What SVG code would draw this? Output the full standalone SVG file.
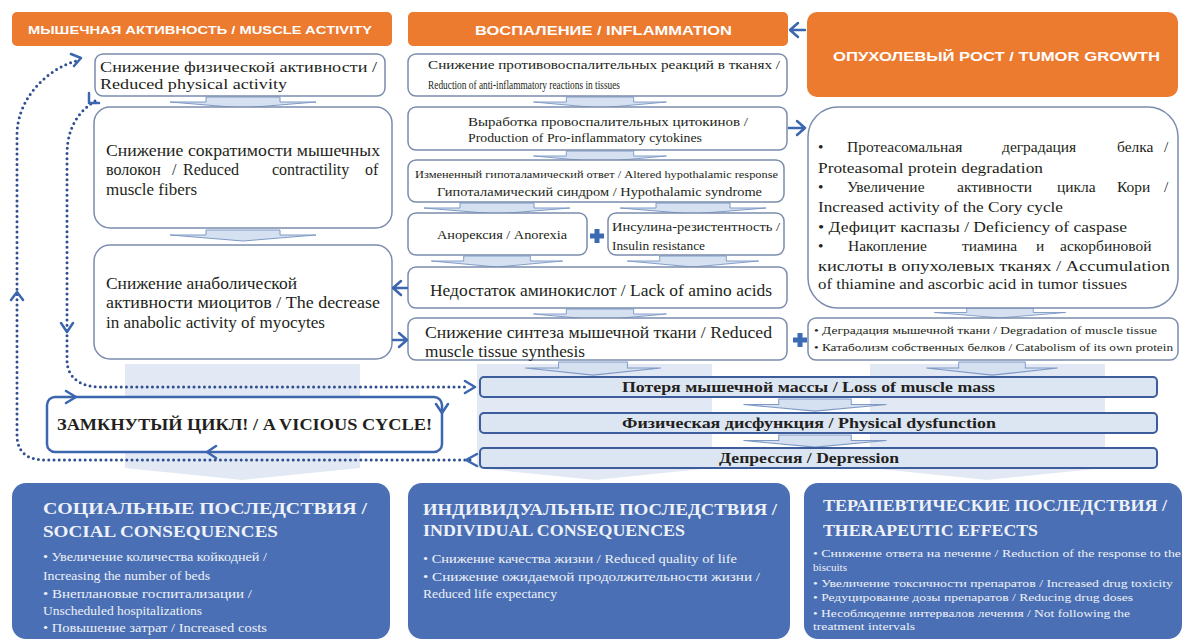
<svg xmlns="http://www.w3.org/2000/svg" width="1187" height="643" viewBox="0 0 1187 643">
<style>
.bg{fill:#ffffff}
.col{fill:#e2e9f4}
.chev{fill:#d5e0f0;stroke:#7f9ac6;stroke-width:1}
.box{fill:#ffffff;stroke:#7b8cad;stroke-width:1.5}
.hdr{fill:#ec7a2f}
.ht{font-family:"Liberation Sans",Arial,"DejaVu Sans",sans-serif;font-weight:bold;fill:#ffffff}
.t{font-family:"Liberation Serif","Times New Roman","DejaVu Serif",Times,serif;fill:#231f20}
.b{font-weight:bold}
.bar{fill:#dce6f2;stroke:#3d5c9c;stroke-width:2}
.cyc{fill:#ffffff;stroke:#3c66ae;stroke-width:2.5}
.cons{fill:#4a6fb4}
.ct{font-family:"Liberation Serif","Times New Roman","DejaVu Serif",Times,serif;fill:#eef2f8}
.dot{fill:none;stroke:#2f4f92;stroke-width:3;stroke-dasharray:0 5.2;stroke-linecap:round}
.ah{fill:none;stroke:#3b66b0;stroke-width:2.5;stroke-linecap:round;stroke-linejoin:round}
.plus{fill:#3d6bb3}
</style>
<defs>
<path id="chev" d="M-37 0H37V5H73L0 11L-73 5H-37Z"/>
<path id="plus" d="M-2.5 -7h5v4.5h4.5v5h-4.5v4.5h-5v-4.5h-4.5v-5h4.5z"/>
</defs>
<rect class="bg" x="0" y="0" width="1187" height="643"/>

<g id="columns">
<path class="col" d="M125 364H360V468L242 480L125 468Z"/>
<path class="col" d="M477 364H712V468L595 480L477 468Z"/>
<path class="col" d="M870 364H1105V468L987 480L870 468Z"/>
</g>

<g id="chevrons">
<use href="#chev" class="chev" transform="translate(243,97)"/>
<use href="#chev" class="chev" transform="translate(243,230)"/>
<use href="#chev" class="chev" transform="translate(600,97) scale(0.91,1)"/>
<use href="#chev" class="chev" transform="translate(600,151) scale(0.91,1)"/>
<use href="#chev" class="chev" transform="translate(497,203)"/>
<use href="#chev" class="chev" transform="translate(693,203)"/>
<use href="#chev" class="chev" transform="translate(497,256) scale(0.9,1)"/>
<use href="#chev" class="chev" transform="translate(693,256) scale(0.9,1)"/>
<use href="#chev" class="chev" transform="translate(600,309) scale(0.91,1)"/>
<use href="#chev" class="chev" transform="translate(593,362) scale(0.93,1.2)"/>
<use href="#chev" class="chev" transform="translate(1000,308) scale(0.9,0.9)"/>
<use href="#chev" class="chev" transform="translate(992,362) scale(0.9,1.2)"/>
<use href="#chev" class="chev" transform="translate(815,399) scale(0.98,1.1)"/>
<use href="#chev" class="chev" transform="translate(815,435) scale(0.98,1.1)"/>
</g>

<g id="hdr-muscle">
<rect class="hdr" x="12" y="12" width="380" height="34" rx="5"/>
<text class="ht" x="28" y="34" font-size="11.5" textLength="344" lengthAdjust="spacingAndGlyphs">МЫШЕЧНАЯ АКТИВНОСТЬ / MUSCLE ACTIVITY</text>
</g>
<g id="hdr-inflammation">
<rect class="hdr" x="408" y="12" width="380" height="34" rx="5"/>
<text class="ht" x="475" y="34.5" font-size="13" textLength="257" lengthAdjust="spacingAndGlyphs">ВОСПАЛЕНИЕ / INFLAMMATION</text>
</g>
<g id="hdr-tumor">
<rect class="hdr" x="807" y="12" width="371" height="85" rx="10"/>
<text class="ht" x="833" y="60.5" font-size="13" textLength="327" lengthAdjust="spacingAndGlyphs">ОПУХОЛЕВЫЙ РОСТ / TUMOR GROWTH</text>
</g>

<g id="m1">
<rect class="box" x="95" y="54" width="290" height="42" rx="8"/>
<text class="t" font-size="15"><tspan x="100" y="72" textLength="277" lengthAdjust="spacingAndGlyphs">Снижение физической активности /</tspan><tspan x="100" y="89" textLength="187" lengthAdjust="spacingAndGlyphs">Reduced physical activity</tspan></text>
</g>
<g id="m2">
<rect class="box" x="94" y="107" width="298" height="121" rx="16"/>
<text class="t" font-size="16" x="106" y="156" textLength="274" lengthAdjust="spacingAndGlyphs">Снижение сократимости мышечных</text>
<text class="t" font-size="16" y="175"><tspan x="106">волокон</tspan><tspan x="172">/</tspan><tspan x="183">Reduced</tspan><tspan x="272">contractility</tspan><tspan x="365">of</tspan></text>
<text class="t" font-size="16" x="106" y="195" textLength="91" lengthAdjust="spacingAndGlyphs">muscle fibers</text>
</g>
<g id="m3">
<rect class="box" x="94" y="245" width="298" height="114" rx="16"/>
<text class="t" font-size="16"><tspan x="106" y="289" textLength="191" lengthAdjust="spacingAndGlyphs">Снижение анаболической</tspan><tspan x="106" y="308" textLength="274" lengthAdjust="spacingAndGlyphs">активности миоцитов / The decrease</tspan><tspan x="106" y="328" textLength="219" lengthAdjust="spacingAndGlyphs">in anabolic activity of myocytes</tspan></text>
</g>

<g id="i1">
<rect class="box" x="408" y="54" width="379" height="42" rx="8"/>
<text class="t" font-size="12.5"><tspan x="428" y="69" textLength="352" lengthAdjust="spacingAndGlyphs">Снижение противовоспалительных реакций в тканях /</tspan><tspan x="428" y="89" textLength="192" lengthAdjust="spacingAndGlyphs">Reduction of anti-inflammatory reactions in tissues</tspan></text>
</g>
<g id="i2">
<rect class="box" x="408" y="107" width="379" height="43" rx="8"/>
<text class="t" font-size="12.5"><tspan x="468" y="126" textLength="280" lengthAdjust="spacingAndGlyphs">Выработка провоспалительных цитокинов /</tspan><tspan x="468" y="142" textLength="234" lengthAdjust="spacingAndGlyphs">Production of Pro-inflammatory cytokines</tspan></text>
</g>
<g id="i3">
<rect class="box" x="408" y="160" width="376" height="42" rx="8"/>
<text class="t" font-size="10" x="415" y="177.5" textLength="363" lengthAdjust="spacingAndGlyphs">Измененный гипоталамический ответ  / Altered hypothalamic response</text>
<text class="t" font-size="13" x="437" y="195.5" textLength="325" lengthAdjust="spacingAndGlyphs">Гипоталамический синдром / Hypothalamic syndrome</text>
</g>
<g id="i4">
<rect class="box" x="408" y="213" width="179" height="42" rx="8"/>
<text class="t" font-size="12" x="437" y="239" textLength="130" lengthAdjust="spacingAndGlyphs">Анорексия / Anorexia</text>
</g>
<g id="i5">
<rect class="box" x="608" y="213" width="176" height="42" rx="8"/>
<text class="t" font-size="12.5"><tspan x="612" y="231" textLength="168" lengthAdjust="spacingAndGlyphs">Инсулина-резистентность /</tspan><tspan x="612" y="250" textLength="93" lengthAdjust="spacingAndGlyphs">Insulin resistance</tspan></text>
</g>
<g id="i6">
<rect class="box" x="408" y="267" width="379" height="41" rx="8"/>
<text class="t" font-size="16" x="430" y="295.5" textLength="342" lengthAdjust="spacingAndGlyphs">Недостаток аминокислот / Lack of amino acids</text>
</g>
<g id="i7">
<rect class="box" x="408" y="318" width="379" height="42" rx="8"/>
<text class="t" font-size="16"><tspan x="425" y="337.5" textLength="347" lengthAdjust="spacingAndGlyphs">Снижение синтеза мышечной ткани / Reduced</tspan><tspan x="425" y="357" textLength="160" lengthAdjust="spacingAndGlyphs">muscle tissue synthesis</tspan></text>
</g>

<g id="t1">
<rect class="box" x="808" y="107" width="370" height="201" rx="30"/>
<text class="t" font-size="15.5" y="152"><tspan x="818">•</tspan><tspan x="847">Протеасомальная</tspan><tspan x="1002">деградация</tspan><tspan x="1117">белка</tspan><tspan x="1164">/</tspan></text>
<text class="t" font-size="15.5" x="818" y="173" textLength="225" lengthAdjust="spacingAndGlyphs">Proteasomal protein degradation</text>
<text class="t" font-size="15.5" y="192"><tspan x="818">•</tspan><tspan x="847">Увеличение</tspan><tspan x="957">активности</tspan><tspan x="1057">цикла</tspan><tspan x="1117">Кори</tspan><tspan x="1164">/</tspan></text>
<text class="t" font-size="15.5" x="818" y="212" textLength="245" lengthAdjust="spacingAndGlyphs">Increased activity of the Cory cycle</text>
<text class="t" font-size="15.5" x="818" y="232" textLength="309" lengthAdjust="spacingAndGlyphs">• Дефицит каспазы / Deficiency of caspase</text>
<text class="t" font-size="15.5" y="251"><tspan x="818">•</tspan><tspan x="848">Накопление</tspan><tspan x="962">тиамина</tspan><tspan x="1036">и</tspan><tspan x="1060">аскорбиновой</tspan></text>
<text class="t" font-size="15.5" x="818" y="271" textLength="352" lengthAdjust="spacingAndGlyphs">кислоты в опухолевых тканях / Accumulation</text>
<text class="t" font-size="15.5" x="818" y="289" textLength="309" lengthAdjust="spacingAndGlyphs">of thiamine and ascorbic acid in tumor tissues</text>
</g>
<g id="t2">
<rect class="box" x="808" y="318" width="370" height="42" rx="8"/>
<text class="t" font-size="10.5"><tspan x="814" y="334" textLength="343" lengthAdjust="spacingAndGlyphs">• Деградация мышечной ткани / Degradation of muscle tissue</tspan><tspan x="814" y="351" textLength="359" lengthAdjust="spacingAndGlyphs">• Катаболизм собственных белков / Catabolism of its own protein</tspan></text>
</g>

<g id="loss">
<rect class="bar" x="480" y="377" width="677" height="20" rx="4"/>
<text class="t b" font-size="15" x="622" y="392" textLength="373" lengthAdjust="spacingAndGlyphs">Потеря мышечной массы / Loss of muscle mass</text>
</g>
<g id="dysfunction">
<rect class="bar" x="480" y="413" width="677" height="20" rx="4"/>
<text class="t b" font-size="15" x="622" y="428" textLength="374" lengthAdjust="spacingAndGlyphs">Физическая дисфункция / Physical dysfunction</text>
</g>
<g id="depression">
<rect class="bar" x="480" y="448" width="677" height="20" rx="4"/>
<text class="t b" font-size="15" x="719" y="463" textLength="180" lengthAdjust="spacingAndGlyphs">Депрессия / Depression</text>
</g>

<g id="cycle">
<rect class="cyc" x="47" y="397" width="395" height="55" rx="8"/>
<text class="t b" font-size="16" x="57" y="430" textLength="375" lengthAdjust="spacingAndGlyphs">ЗАМКНУТЫЙ ЦИКЛ! / A VICIOUS CYCLE!</text>
<path class="ah" d="M66 391L76 397L66 403M436 404L442 413L448 404M216 446L207 452L216 458"/>
</g>

<g id="social">
<rect class="cons" x="12" y="483" width="378" height="156" rx="14"/>
<text class="ct b" font-size="17.5"><tspan x="43" y="514" textLength="324" lengthAdjust="spacingAndGlyphs">СОЦИАЛЬНЫЕ  ПОСЛЕДСТВИЯ /</tspan><tspan x="43" y="537" textLength="235" lengthAdjust="spacingAndGlyphs">SOCIAL CONSEQUENCES</tspan></text>
<text class="ct" font-size="11.5"><tspan x="43" y="561" textLength="224" lengthAdjust="spacingAndGlyphs">• Увеличение количества койкодней /</tspan><tspan x="43" y="580" textLength="167" lengthAdjust="spacingAndGlyphs">Increasing the number of beds</tspan><tspan x="43" y="598" textLength="209" lengthAdjust="spacingAndGlyphs">• Внеплановые госпитализации /</tspan><tspan x="43" y="615" textLength="159" lengthAdjust="spacingAndGlyphs">Unscheduled hospitalizations</tspan><tspan x="43" y="632" textLength="224" lengthAdjust="spacingAndGlyphs">• Повышение затрат / Increased costs</tspan></text>
</g>
<g id="individual">
<rect class="cons" x="408" y="483" width="382" height="156" rx="14"/>
<text class="ct b" font-size="17.5"><tspan x="423" y="515" textLength="354" lengthAdjust="spacingAndGlyphs">ИНДИВИДУАЛЬНЫЕ  ПОСЛЕДСТВИЯ /</tspan><tspan x="423" y="536" textLength="262" lengthAdjust="spacingAndGlyphs">INDIVIDUAL CONSEQUENCES</tspan></text>
<text class="ct" font-size="11.5"><tspan x="423" y="563" textLength="314" lengthAdjust="spacingAndGlyphs">• Снижение качества жизни / Reduced quality of life</tspan><tspan x="423" y="581" textLength="337" lengthAdjust="spacingAndGlyphs">• Снижение ожидаемой продолжительности жизни /</tspan><tspan x="423" y="598" textLength="134" lengthAdjust="spacingAndGlyphs">Reduced life expectancy</tspan></text>
</g>
<g id="therapeutic">
<rect class="cons" x="804" y="483" width="378" height="156" rx="14"/>
<text class="ct b" font-size="17.5"><tspan x="823" y="511" textLength="344" lengthAdjust="spacingAndGlyphs">ТЕРАПЕВТИЧЕСКИЕ ПОСЛЕДСТВИЯ /</tspan><tspan x="823" y="536" textLength="215" lengthAdjust="spacingAndGlyphs">THERAPEUTIC EFFECTS</tspan></text>
<text class="ct" font-size="10.5"><tspan x="813" y="557" textLength="368" lengthAdjust="spacingAndGlyphs">• Снижение ответа на печение / Reduction of the response to the</tspan><tspan x="813" y="571" textLength="34" lengthAdjust="spacingAndGlyphs">biscuits</tspan><tspan x="813" y="587" textLength="360" lengthAdjust="spacingAndGlyphs">• Увеличение токсичности препаратов / Increased drug toxicity</tspan><tspan x="813" y="601" textLength="320" lengthAdjust="spacingAndGlyphs">• Редуцирование дозы препаратов / Reducing drug doses</tspan><tspan x="813" y="617" textLength="317" lengthAdjust="spacingAndGlyphs">• Несоблюдение интервалов лечения / Not following the</tspan><tspan x="813" y="630" textLength="102" lengthAdjust="spacingAndGlyphs">treatment intervals</tspan></text>
</g>

<g id="plus-signs">
<use href="#plus" class="plus" transform="translate(597,236)"/>
<use href="#plus" class="plus" transform="translate(800,340)"/>
</g>

<g id="connectors">
<path class="ah" d="M805 30H791M798 23L790 30L798 37"/>
<path class="ah" d="M789 128H804M797 121L805 128L797 135"/>
<path class="ah" d="M407 288H394M401 281L393 288L401 295"/>
<path class="ah" d="M393 340H406M399 333L407 340L399 347"/>
<path class="dot" d="M95 101C78 112 67 128 67 155L67 360C67 377 80 387 100 387L466 387"/>
<path class="ah" d="M89 93L89 103L99 103M61 323L67 332L73 323M465 381L475 387L465 393"/>
<path class="dot" d="M470 460L45 460C27 460 17 452 17 435L17 135C17 100 45 70 76 61"/>
<path class="ah" d="M477 454L466 460L477 466M11 300L17 292L23 300M71 54L81 58L74 66"/>
</g>
</svg>
